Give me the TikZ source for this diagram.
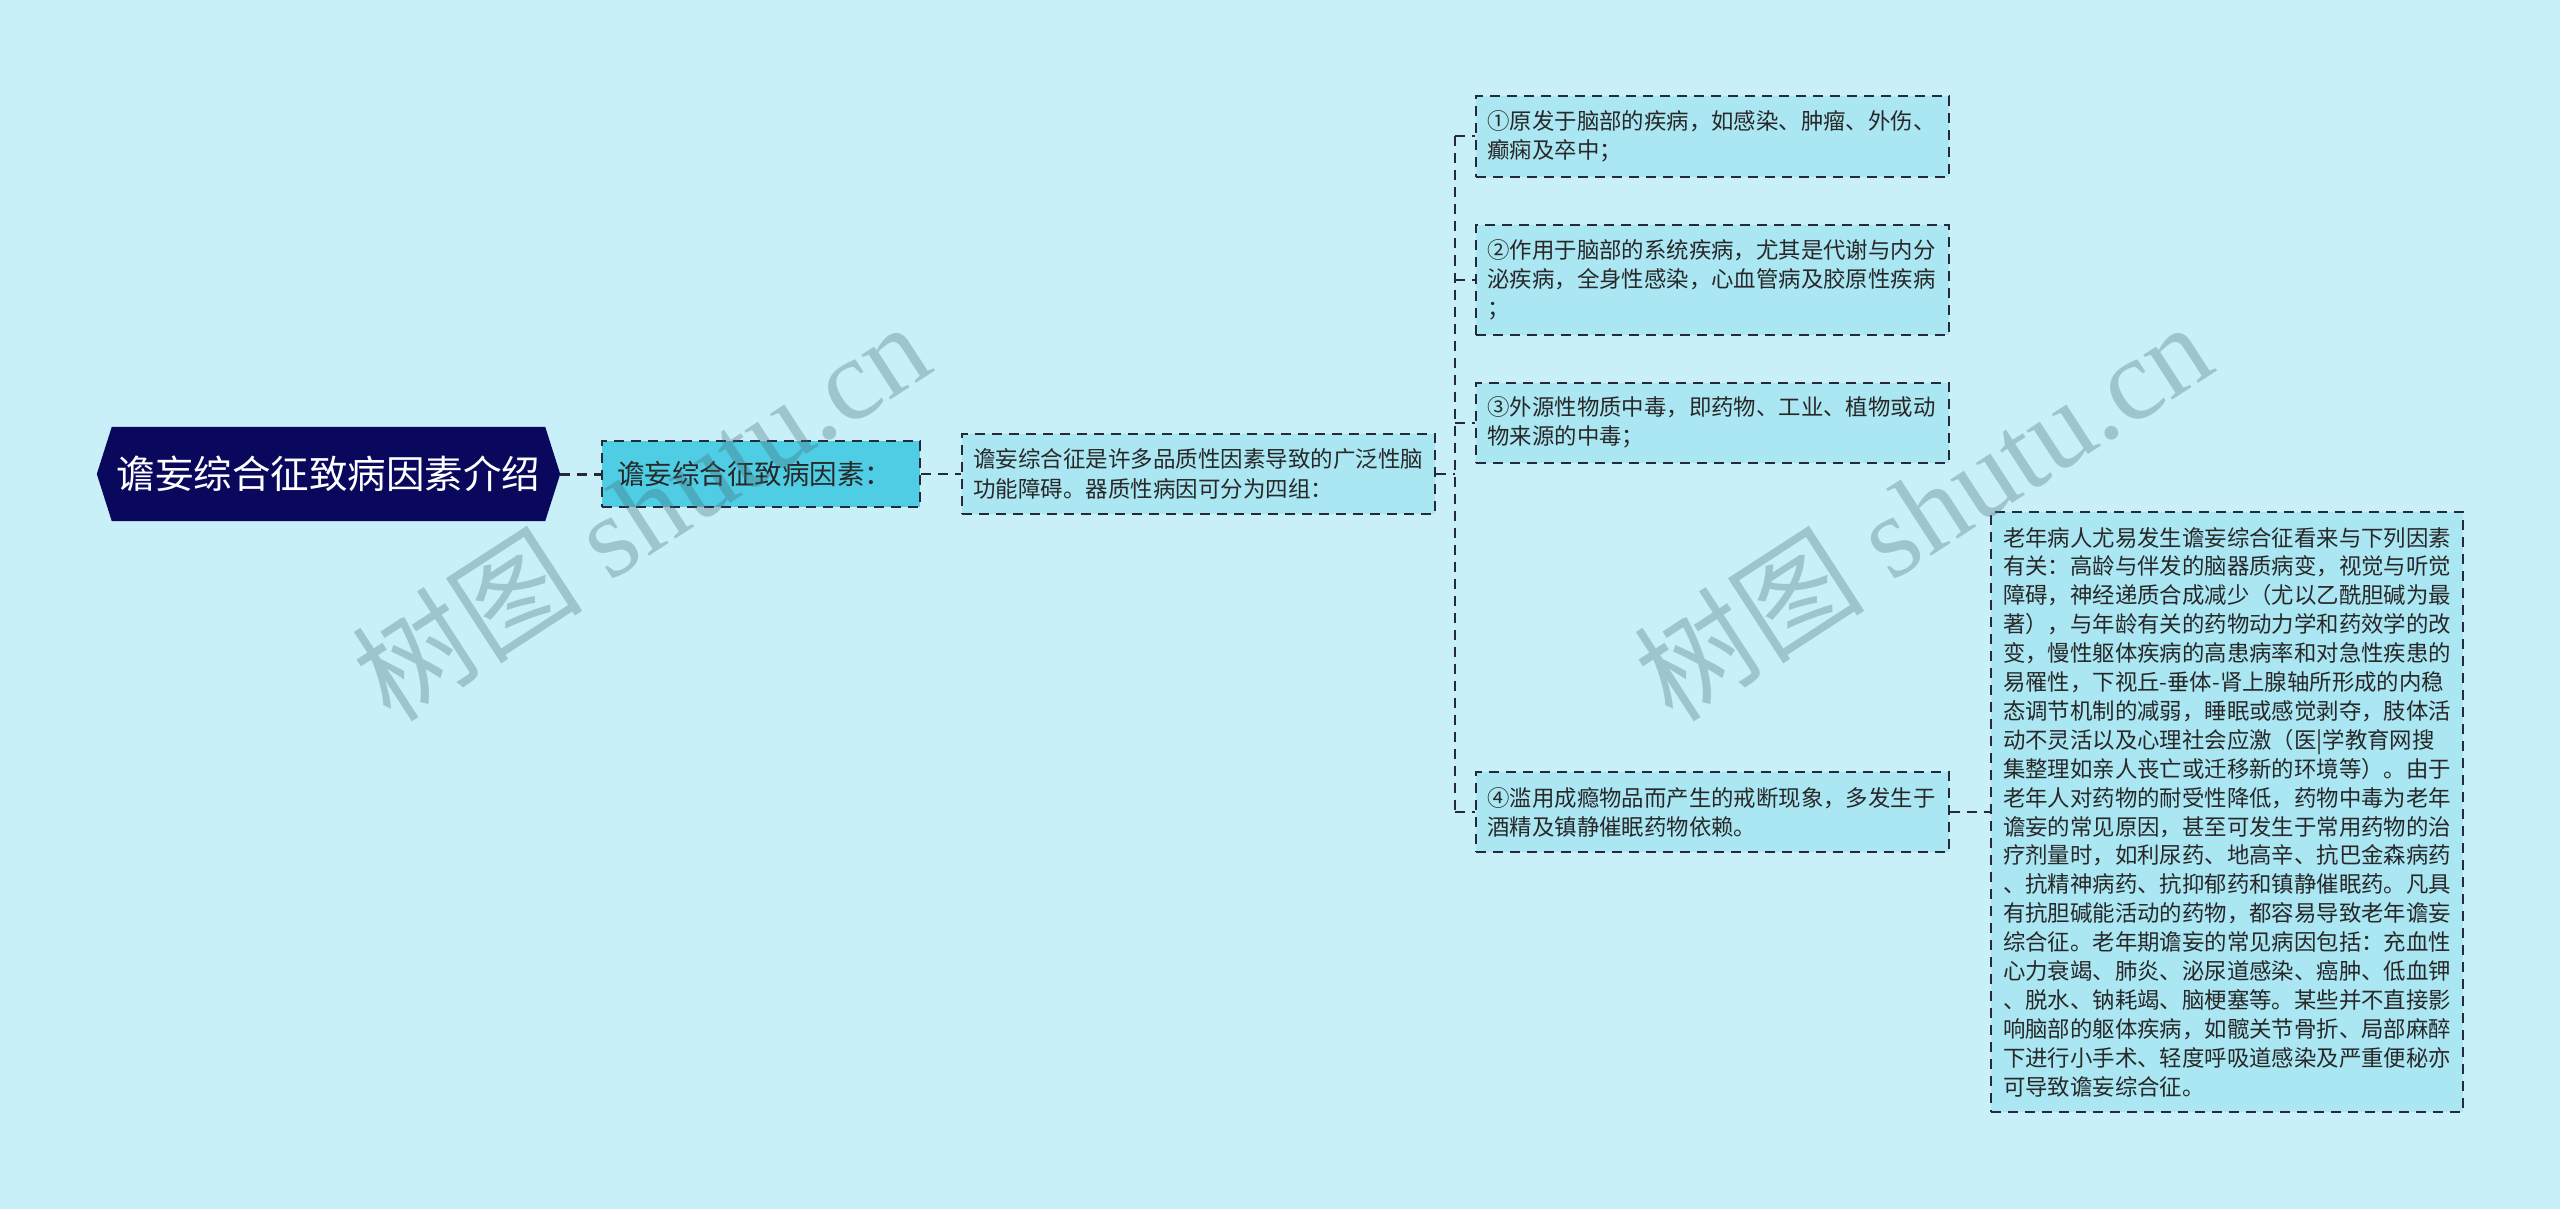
\documentclass[tikz,border=0pt]{standalone}
\usepackage{fontspec}
\setmainfont{Noto Sans CJK SC}
\newfontfamily\wmcjk{Noto Sans CJK SC}
\newfontfamily\wmlat{Liberation Serif}
\usetikzlibrary{backgrounds}
\definecolor{bgc}{RGB}{201,240,248}
\definecolor{rootc}{RGB}{10,8,92}
\definecolor{lonec}{RGB}{78,205,228}
\definecolor{leafc}{RGB}{171,230,243}
\definecolor{edgec}{RGB}{35,42,58}
\definecolor{txtc}{RGB}{40,40,40}
\definecolor{wmc}{RGB}{70,105,115}
\tikzset{
  dashline/.style={draw=edgec, line width=2pt, dash pattern=on 10pt off 7pt},
  conn/.style={dashline},
  rootnode/.style={minimum width=433pt, minimum height=94pt, inner sep=0pt, text=white,
    font=\fontsize{38.5}{46}\selectfont},
  lonebox/.style={dashline, fill=lonec, text=txtc, font=\fontsize{27.5}{33}\selectfont,
    align=left, text width=288pt, inner xsep=15pt, inner ysep=0pt, minimum width=318pt, minimum height=66pt},
  ltwobox/.style={dashline, fill=leafc, text=txtc, font=\fontsize{22.5}{29.5}\selectfont,
    align=left, text width=451pt, inner xsep=11pt, inner ysep=0pt, minimum width=473pt, minimum height=80pt},
  leafbox/.style={dashline, fill=leafc, text=txtc, font=\fontsize{22.4}{28.9}\selectfont,
    align=left, text width=450pt, inner xsep=11.5pt, inner ysep=0pt, minimum width=473pt},
  wm/.style={text=wmc, text opacity=0.32, rotate=33, inner sep=0pt}
}
\begin{document}
\begin{tikzpicture}[x=1pt,y=-1pt]
\useasboundingbox (0,0) rectangle (2560,1209);

\node[rootnode] (root) at (328.5,474) {谵妄综合征致病因素介绍};
\node[lonebox] (lone) at (761,474) {谵妄综合征致病因素：};
\node[ltwobox] (ltwo) at (1198.5,474) {谵妄综合征是许多品质性因素导致的广泛性脑\\功能障碍。器质性病因可分为四组：};

\node[leafbox, minimum height=81pt] (leafa) at (1712.5,136.5) {①原发于脑部的疾病，如感染、肿瘤、外伤、\\癫痫及卒中；};
\node[leafbox, minimum height=110pt] (leafb) at (1712.5,280) {②作用于脑部的系统疾病，尤其是代谢与内分\\泌疾病，全身性感染，心血管病及胶原性疾病\\；};
\node[leafbox, minimum height=80pt] (leafc) at (1712.5,422.5) {③外源性物质中毒，即药物、工业、植物或动\\物来源的中毒；};
\node[leafbox, minimum height=80pt] (leafd) at (1712.5,812) {④滥用成瘾物品而产生的戒断现象，多发生于\\酒精及镇静催眠药物依赖。};

\node[leafbox, minimum height=600pt, text width=448pt, inner xsep=12pt, minimum width=472pt] (big) at (2227,812) {老年病人尤易发生谵妄综合征看来与下列因素\\
有关：高龄与伴发的脑器质病变，视觉与听觉\\
障碍，神经递质合成减少（尤以乙酰胆碱为最\\
著），与年龄有关的药物动力学和药效学的改\\
变，慢性躯体疾病的高患病率和对急性疾患的\\
易罹性，下视丘-垂体-肾上腺轴所形成的内稳\\
态调节机制的减弱，睡眠或感觉剥夺，肢体活\\
动不灵活以及心理社会应激（医|学教育网搜\\
集整理如亲人丧亡或迁移新的环境等）。由于\\
老年人对药物的耐受性降低，药物中毒为老年\\
谵妄的常见原因，甚至可发生于常用药物的治\\
疗剂量时，如利尿药、地高辛、抗巴金森病药\\
、抗精神病药、抗抑郁药和镇静催眠药。凡具\\
有抗胆碱能活动的药物，都容易导致老年谵妄\\
综合征。老年期谵妄的常见病因包括：充血性\\
心力衰竭、肺炎、泌尿道感染、癌肿、低血钾\\
、脱水、钠耗竭、脑梗塞等。某些并不直接影\\
响脑部的躯体疾病，如髋关节骨折、局部麻醉\\
下进行小手术、轻度呼吸道感染及严重便秘亦\\
可导致谵妄综合征。};

\begin{pgfonlayer}{background}
\fill[bgc] (0,0) rectangle (2560,1209);
\fill[rootc] (root.north west) -- (root.north east) -- ([xshift=15pt]root.east)
  -- (root.south east) -- (root.south west) -- ([xshift=-15pt]root.west) -- cycle;
\end{pgfonlayer}

\coordinate (bus) at (1455,474);
\draw[conn, line width=3pt] ([xshift=15pt]root.east) -- (lone.west);
\draw[conn] (lone.east) -- (ltwo.west);
\draw[conn] (ltwo.east) -- (bus);
\draw[conn] (bus |- leafa.west) -- (bus |- leafd.west);
\draw[conn] (bus |- leafa.west) -- (leafa.west);
\draw[conn] (bus |- leafb.west) -- (leafb.west);
\draw[conn] (bus |- leafc.west) -- (leafc.west);
\draw[conn] (bus |- leafd.west) -- (leafd.west);
\draw[conn] (leafd.east) -- (big.west);

\node[wm] (wma) at (640,510) {\fontsize{116}{120}\selectfont\wmcjk 树图\wmlat{} shutu.cn};
\node[wm] (wmb) at (1922,510) {\fontsize{116}{120}\selectfont\wmcjk 树图\wmlat{} shutu.cn};
\end{tikzpicture}
\end{document}
